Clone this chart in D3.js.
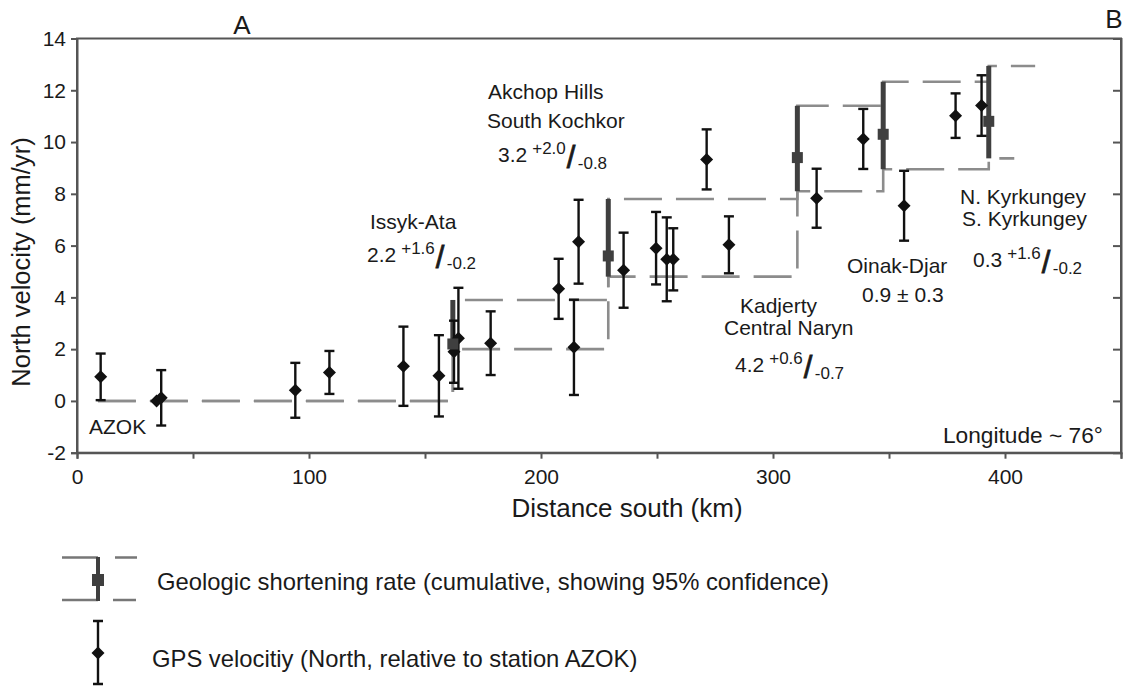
<!DOCTYPE html>
<html><head><meta charset="utf-8">
<script src="https://cdn.jsdelivr.net/npm/d3@7"></script>
<style>
html,body{margin:0;padding:0;background:#fff;}
svg text{font-family:"Liberation Sans",Arial,Helvetica,sans-serif;fill:#1a1a1a;}
</style></head>
<body>
<svg id="chart" width="1129" height="686"></svg>
<script>
// ---- GPS velocities (North, relative to AZOK) ----
const gpsDist = [10.2, 34.3, 36.3, 94.1, 108.8, 140.7, 156.0, 162.5, 164.4, 178.3, 207.6, 214.2, 216.2, 235.6, 249.6, 254.2, 257.0, 271.4, 281.0, 318.8, 338.9, 356.5, 378.7, 389.9];
const gpsVel  = [0.93, 0.0, 0.12, 0.41, 1.10, 1.34, 0.97, 1.90, 2.42, 2.23, 4.33, 2.07, 6.15, 5.05, 5.90, 5.47, 5.47, 9.33, 6.03, 7.83, 10.12, 7.54, 11.02, 11.41];
const gpsErr  = [0.90, 0.0, 1.07, 1.06, 0.83, 1.53, 1.57, 1.20, 1.95, 1.23, 1.16, 1.84, 1.62, 1.45, 1.40, 1.62, 1.20, 1.16, 1.10, 1.14, 1.16, 1.35, 0.86, 1.17];

// ---- Geologic cumulative shortening rates ----
const geoDist = [162, 229, 310.5, 347.5, 393];
const geoRate = [2.2, 5.6, 9.4, 10.3, 10.8];
const geoLow  = [2.0, 4.8, 8.1, 8.95, 9.37];
const geoHigh = [3.9, 7.8, 11.4, 12.33, 12.94];
const stepStart = 9;          // km where the step lines begin
const stepEndLow = 404;       // km where the lower bound line ends
const stepEndHigh = 413;      // km where the upper bound line ends

// ---- Axes ----
const xDomain = [0, 450];
const yDomain = [-2, 14];
const xTicks = [0, 50, 100, 150, 200, 250, 300, 350, 400, 450];
const xTickLabels = ["0", "", "100", "", "200", "", "300", "", "400", ""];
const yTicks = [-2, 0, 2, 4, 6, 8, 10, 12, 14];

const svg = d3.select("#chart");
const L = 77, R = 1121, T = 38.5, B = 452.7;
const x = d3.scaleLinear().domain(xDomain).range([L, R]);
const y = d3.scaleLinear().domain(yDomain).range([B, T]);

const frameColor = "#555";
svg.append("rect").attr("x", L).attr("y", T).attr("width", R - L).attr("height", B - T)
  .attr("fill", "none").attr("stroke", frameColor).attr("stroke-width", 2);

const gl = svg.append("g").attr("transform", `translate(${L},0)`)
  .call(d3.axisLeft(y).tickValues(yTicks).tickSize(6).tickPadding(5).tickFormat(d => String(d)));
const gr = svg.append("g").attr("transform", `translate(${R},0)`)
  .call(d3.axisRight(y).tickValues(yTicks.slice(1, -1)).tickSize(-8).tickFormat(""));
const gb = svg.append("g").attr("transform", `translate(0,${B})`)
  .call(d3.axisBottom(x).tickValues(xTicks).tickSize(6).tickPadding(10).tickFormat((d, i) => xTickLabels[i]));
[gl, gr, gb].forEach(g => {
  g.select(".domain").attr("stroke", frameColor).attr("stroke-width", 2);
  g.selectAll(".tick line").attr("stroke", frameColor).attr("stroke-width", 2);
  g.selectAll(".tick text").attr("font-size", 21).attr("fill", "#1a1a1a")
    .attr("font-family", '"Liberation Sans",Arial,sans-serif');
});

svg.append("text").attr("x", 627).attr("y", 517).attr("text-anchor", "middle")
  .attr("font-size", 26).text("Distance south (km)");
svg.append("text").attr("transform", "translate(30,262) rotate(-90)").attr("text-anchor", "middle")
  .attr("font-size", 25.5).text("North velocity (mm/yr)");

svg.append("text").attr("x", 242).attr("y", 34).attr("text-anchor", "middle").attr("font-size", 26).text("A");
svg.append("text").attr("x", 1114).attr("y", 28).attr("text-anchor", "middle").attr("font-size", 26).text("B");

// ---- step lines ----
function stepPts(bounds, endKm) {
  const pts = [[stepStart, 0], [geoDist[0], 0]];
  bounds.forEach((v, i) => {
    pts.push([geoDist[i], v]);
    pts.push([i < geoDist.length - 1 ? geoDist[i + 1] : endKm, v]);
  });
  return pts;
}
const line = d3.line().x(d => x(d[0])).y(d => y(d[1]));
const stepColor = "#8c8c8c";
svg.append("path").attr("d", line(stepPts(geoLow, stepEndLow))).attr("fill", "none")
  .attr("stroke", stepColor).attr("stroke-width", 2.6).attr("stroke-dasharray", "38,14");
svg.append("path").attr("d", line(stepPts(geoHigh, stepEndHigh))).attr("fill", "none")
  .attr("stroke", stepColor).attr("stroke-width", 2.6).attr("stroke-dasharray", "38,14");

const geoColor = "#3f3f3f";
const geo = geoDist.map((d, i) => ({d, r: geoRate[i], lo: geoLow[i], hi: geoHigh[i]}));
svg.selectAll(".gbar").data(geo).join("line")
  .attr("x1", g => x(g.d)).attr("x2", g => x(g.d))
  .attr("y1", g => y(g.lo)).attr("y2", g => y(g.hi))
  .attr("stroke", geoColor).attr("stroke-width", 5);

const gps = gpsDist.map((d, i) => ({d, v: gpsVel[i], e: gpsErr[i]}));
const gg = svg.append("g").attr("stroke", "#111").attr("stroke-width", 2.4);
gps.filter(p => p.e > 0).forEach(p => {
  const cx = x(p.d);
  gg.append("line").attr("x1", cx).attr("x2", cx).attr("y1", y(p.v - p.e)).attr("y2", y(p.v + p.e));
  gg.append("line").attr("x1", cx - 5).attr("x2", cx + 5).attr("y1", y(p.v + p.e)).attr("y2", y(p.v + p.e));
  gg.append("line").attr("x1", cx - 5).attr("x2", cx + 5).attr("y1", y(p.v - p.e)).attr("y2", y(p.v - p.e));
});
const diamond = "M0,-6.5L6.5,0L0,6.5L-6.5,0Z";
svg.selectAll(".dia").data(gps).join("path")
  .attr("d", diamond).attr("transform", p => `translate(${x(p.d)},${y(p.v)})`).attr("fill", "#111");

svg.selectAll(".gsq").data(geo).join("rect")
  .attr("x", g => x(g.d) - 5.5).attr("y", g => y(g.r) - 5.5).attr("width", 11).attr("height", 11)
  .attr("fill", geoColor);

// ---- annotations ----
function txt(xp, yp, s, size, anchor) {
  svg.append("text").attr("x", xp).attr("y", yp).attr("font-size", size || 21)
    .attr("text-anchor", anchor || "start").text(s);
}
function rate(xp, yp, base, sup, sub) {
  const t = svg.append("text").attr("x", xp).attr("y", yp).attr("font-size", 21).text(base);
  const w = t.node().getComputedTextLength();
  const s1 = svg.append("text").attr("x", xp + w + 5).attr("y", yp - 8).attr("font-size", 17).text(sup);
  const w1 = s1.node().getComputedTextLength();
  svg.append("text").attr("x", xp + w + 5 + w1 + 1).attr("y", yp + 6).attr("font-size", 31)
    .attr("stroke", "#1a1a1a").attr("stroke-width", 0.8).text("/");
  svg.append("text").attr("x", xp + w + 5 + w1 + 12).attr("y", yp + 7).attr("font-size", 17).text(sub);
}
txt(89, 434, "AZOK");
txt(370, 229, "Issyk-Ata");
rate(367, 262, "2.2", "+1.6", "-0.2");
txt(488, 99, "Akchop Hills");
txt(487, 128, "South Kochkor");
rate(498, 162, "3.2", "+2.0", "-0.8");
txt(740, 313, "Kadjerty");
txt(724, 335, "Central Naryn");
rate(735, 372, "4.2", "+0.6", "-0.7");
txt(847, 273, "Oinak-Djar");
txt(862, 302, "0.9 \u00B1 0.3");
txt(960, 204, "N. Kyrkungey");
txt(962, 226, "S. Kyrkungey");
rate(973, 267, "0.3", "+1.6", "-0.2");
txt(943, 443, "Longitude ~ 76\u00B0", 22.7);

// ---- legend ----
const lg = svg.append("g");
lg.append("path").attr("d", "M62,557.5H98M62,600H98").attr("stroke", "#777").attr("stroke-width", 2.4).attr("fill", "none");
lg.append("path").attr("d", "M115,557.5H137M113,600H136").attr("stroke", "#777").attr("stroke-width", 2.4).attr("fill", "none");
lg.append("line").attr("x1", 98).attr("x2", 98).attr("y1", 557).attr("y2", 601).attr("stroke", geoColor).attr("stroke-width", 4);
lg.append("rect").attr("x", 92).attr("y", 574).attr("width", 12).attr("height", 12).attr("fill", geoColor);
lg.append("text").attr("x", 157).attr("y", 590).attr("font-size", 23.8)
  .text("Geologic shortening rate (cumulative, showing 95% confidence)");
lg.append("path").attr("d", "M98,621V684M93,621H103M93,684H103").attr("stroke", "#111").attr("stroke-width", 2.4).attr("fill", "none");
lg.append("path").attr("d", diamond).attr("transform", "translate(98,653)").attr("fill", "#111");
lg.append("text").attr("x", 152).attr("y", 667).attr("font-size", 23.8)
  .text("GPS velocitiy (North, relative to station AZOK)");
</script>
</body></html>
